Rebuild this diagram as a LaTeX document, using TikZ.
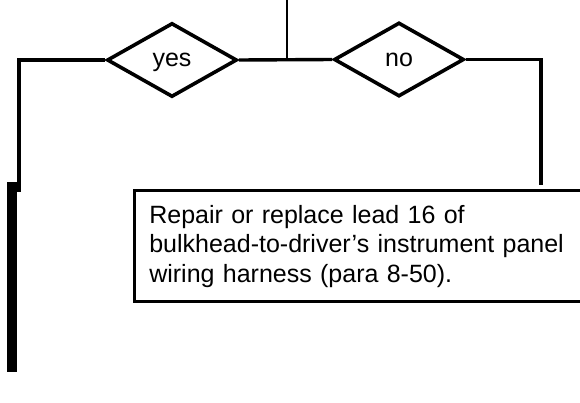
\documentclass[tikz,border=0pt]{standalone}
\usepackage{fontspec}
\setmainfont{Liberation Sans}
\usetikzlibrary{shapes.geometric}
\begin{document}
\begin{tikzpicture}[x=1pt,y=-1pt,
  decision/.style={draw,diamond,line width=3.6pt,minimum width=130pt,minimum height=74pt,inner sep=0pt,text height=13pt,text depth=0pt,font=\fontsize{25}{30}\selectfont},
  conn/.style={line width=3.4pt},
  thinconn/.style={line width=2.4pt},
  actionbox/.style={draw,line width=3.2pt,anchor=north west,text width=440pt,inner xsep=15pt,inner ysep=0pt,minimum height=111pt,align=left,font=\fontsize{25}{29.5}\selectfont}]
\useasboundingbox (0,0) rectangle (580,402);
\node[decision] (yes) at (172,60) {yes};
\node[decision] (no) at (399,59.5) {no};
\coordinate (top) at (287,0);
\coordinate (jn) at (287,60);
\coordinate (lend) at (19,192);
\coordinate (rend) at (541,185);
\draw[thinconn] (top) -- (jn);
\draw[conn] (yes.east) -- (no.west);
\draw[conn] (yes.west) -| (lend);
\draw[conn] (no.east) -| (rend);
\node[actionbox] (act) at (132.7,189) {Repair or replace lead 16 of\\bulkhead-to-driver’s instrument panel\\wiring harness (para 8-50).};
\fill (6.7,182) rectangle (16.7,372);
\end{tikzpicture}
\end{document}
